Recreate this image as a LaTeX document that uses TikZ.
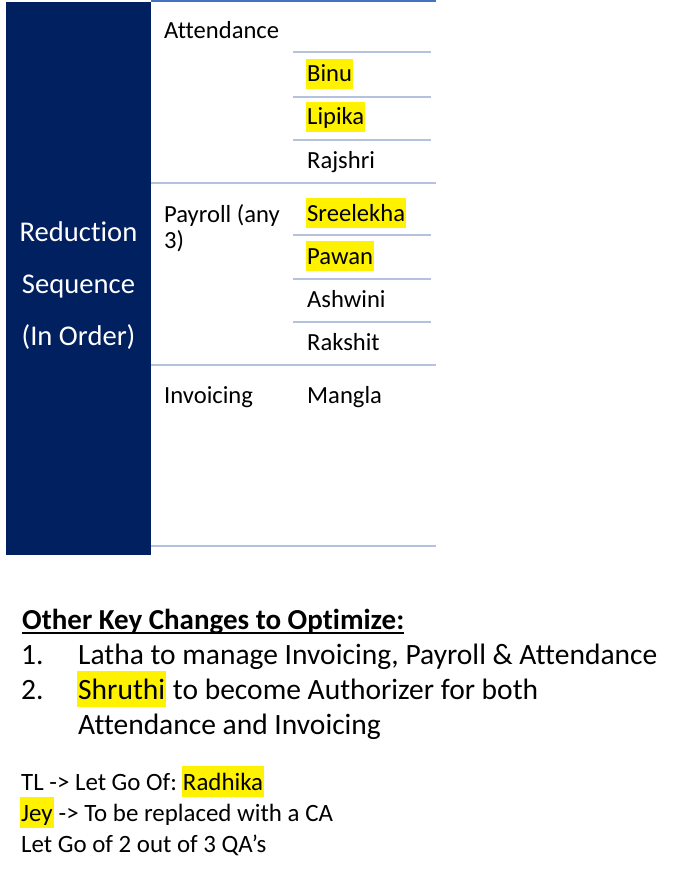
\documentclass[tikz,border=0pt]{standalone}
\usepackage{fontspec}
\setmainfont{Carlito}[Ligatures={TeX,NoCommon}]
\usetikzlibrary{positioning}

\definecolor{navy}{HTML}{002060}
\definecolor{topline}{HTML}{4472C4}
\definecolor{rowline}{HTML}{B4C1DF}

\tikzset{
  cell/.style={anchor=base west, inner sep=0pt, font=\fontsize{24.6}{26}\selectfont},
  seqtext/.style={anchor=base, inner sep=0pt, text=white, font=\fontsize{28.6}{34}\selectfont},
  listtext/.style={anchor=base west, inner sep=0pt, font=\fontsize{29.5}{35}\selectfont},
  notetext/.style={anchor=base west, inner sep=0pt, font=\fontsize{24.9}{30}\selectfont},
  hilite/.style={fill=yellow, inner xsep=1pt, inner ysep=0pt},
  hicell/.style={cell, hilite, text height=23.4pt, text depth=6.6pt},
  hilist/.style={listtext, hilite, text height=28pt, text depth=8pt},
  hinote/.style={notetext, hilite, text height=23.6pt, text depth=6.7pt},
  rowsep/.style={rowline, line width=1.5pt},
}

\begin{document}
\begin{tikzpicture}[x=1pt, y=-1pt]
    \useasboundingbox (0,0) rectangle (687,896);

    % linke Spalte (dunkelblau)
    \fill[navy] (6,2) rectangle (151,555);
    \node[seqtext] (seqa) at (78.5,241) {Reduction};
    \node[seqtext] (seqb) at (78.5,293) {Sequence};
    \node[seqtext] (seqc) at (78.5,345) {(In Order)};

    % Tabellenlinien
    \draw[topline, line width=2pt] (151,1) -- (436,1);
    \foreach \y in {52,97,140,235,279,322}
        \draw[rowsep] (293,\y) -- (431,\y);
    \foreach \y in {183,365,546}
        \draw[rowsep] (151,\y) -- (436,\y);

    % Bereiche
    \node[cell] (att) at (164,39) {Attendance};
    \node[cell, align=left] (pay) at (164,248) {Payroll (any\\3)};
    \node[cell] (inv) at (164,403) {Invoicing};

    % Namen
    \node[hicell] (binu) at (306,82) {Binu};
    \node[hicell] (lipika) at (306,125) {Lipika};
    \node[cell] (rajshri) at (307,168) {Rajshri};
    \node[hicell] (sree) at (306,221) {Sreelekha};
    \node[hicell] (pawan) at (306,264) {Pawan};
    \node[cell] (ashwini) at (307,307) {Ashwini};
    \node[cell] (rakshit) at (307,350) {Rakshit};
    \node[cell] (mangla) at (307,403) {Mangla};

    % weitere Aenderungen
    \node[listtext, font=\fontsize{29}{35}\selectfont\bfseries] (head) at (22,629) {Other Key Changes to Optimize:};
    \draw[line width=2pt] ([yshift=-3.5pt]head.base west) -- ([yshift=-3.5pt]head.base east);
    \node[listtext] (numa) at (21,664) {1.};
    \node[listtext] (latha) at (78,664) {Latha to manage Invoicing, Payroll \& Attendance};
    \node[listtext] (numb) at (21,699) {2.};
    \node[hilist] (shruthi) at (77,699) {Shruthi};
    \node[listtext, base right=6.4pt of shruthi] (auth) {to become Authorizer for both};
    \node[listtext] (authb) at (78,734) {Attendance and Invoicing};

    % Notizen
    \node[notetext] (tl) at (21,790) {TL -> Let Go Of:};
    \node[hinote, base right=4.6pt of tl] (radhika) {Radhika};
    \node[hinote] (jey) at (20,821) {Jey};
    \node[notetext, base right=4.6pt of jey] (jeyrest) {-> To be replaced with a CA};
    \node[notetext] (qa) at (21,852) {Let Go of 2 out of 3 QA’s};

\end{tikzpicture}
\end{document}
